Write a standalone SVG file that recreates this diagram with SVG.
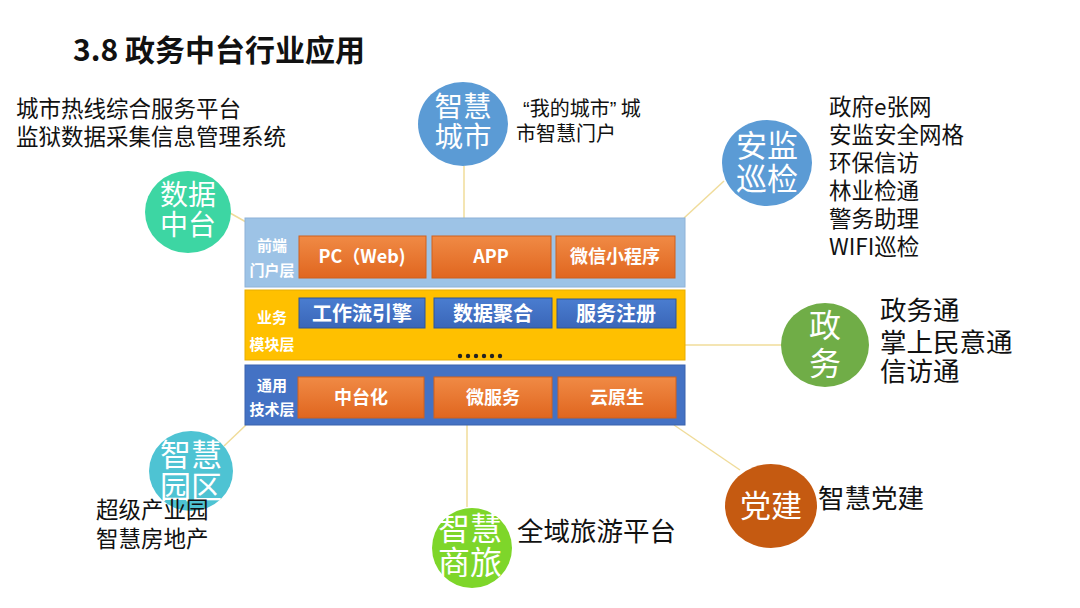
<svg xmlns="http://www.w3.org/2000/svg" width="1080" height="608" viewBox="0 0 1080 608">
<defs>
<linearGradient id="og" x1="0" y1="0" x2="0" y2="1"><stop offset="0" stop-color="#f08a45"/><stop offset="1" stop-color="#e0661f"/></linearGradient>
<linearGradient id="bg" x1="0" y1="0" x2="0" y2="1"><stop offset="0" stop-color="#4a7dd0"/><stop offset="1" stop-color="#3a66b8"/></linearGradient>
</defs>
<style>
text{font-family:"Noto Sans CJK SC","Noto Sans",sans-serif}
.title{font-size:30px;font-weight:bold;fill:#111}
.ob{fill:url(#og);stroke:#d0601c;stroke-width:1}
.bb{fill:url(#bg);stroke:#2f5597;stroke-width:1}
.bt{fill:#fff;font-size:18px;font-weight:bold;text-anchor:middle}
.bt2{fill:#fff;font-size:20px;font-weight:bold;text-anchor:middle}
.lt{fill:#fff;font-size:15px;font-weight:bold;text-anchor:middle}
.ct{fill:#fff;font-size:28px;text-anchor:middle}
.tx{fill:#111;font-size:22.5px}
.tq{fill:#111;font-size:20px}
.tl{fill:#111;font-size:26.5px}
.lat{font-family:"Liberation Sans",sans-serif}
.conn line{stroke:#f0dc9a;stroke-width:1.5}
</style>
<rect width="1080" height="608" fill="#fff"/>
<text class="title" x="73" y="61">3.8 政务中台行业应用</text>

<g class="conn" id="connectors">
<line x1="230" y1="213" x2="246" y2="222"/>
<line x1="464" y1="166" x2="464" y2="218"/>
<line x1="684" y1="218" x2="724" y2="181"/>
<line x1="685" y1="345" x2="782" y2="345"/>
<line x1="246" y1="425" x2="224" y2="446"/>
<line x1="467" y1="425" x2="467" y2="507"/>
<line x1="674" y1="425" x2="740" y2="470"/>
</g>

<g id="platform">
<rect x="245" y="218" width="440" height="69" fill="#9dc3e6" stroke="#8eb2d8"/>
<text class="lt" x="272" y="251">前端<tspan x="272" dy="25">门户层</tspan></text>
<rect class="ob" x="299" y="236" width="127" height="42"/>
<text class="bt" x="362" y="263">PC（Web)</text>
<rect class="ob" x="432" y="236" width="119" height="42"/>
<text class="bt" x="491" y="263">APP</text>
<rect class="ob" x="556" y="236" width="119" height="42"/>
<text class="bt" x="615" y="263">微信小程序</text>

<rect x="245" y="290" width="440" height="70" fill="#ffc000" stroke="#e8ad00"/>
<text class="lt" x="272" y="323">业务<tspan x="272" dy="27">模块层</tspan></text>
<rect class="bb" x="299" y="298" width="126" height="30"/>
<text class="bt2" x="362" y="321">工作流引擎</text>
<rect class="bb" x="434" y="298" width="118" height="30"/>
<text class="bt2" x="493" y="321">数据聚合</text>
<rect class="bb" x="557" y="299" width="119" height="29"/>
<text class="bt2" x="616" y="321">服务注册</text>
<g fill="#222"><circle cx="460" cy="356" r="2.2"/><circle cx="468" cy="356" r="2.2"/><circle cx="476" cy="356" r="2.2"/><circle cx="484" cy="356" r="2.2"/><circle cx="492" cy="356" r="2.2"/><circle cx="500" cy="356" r="2.2"/></g>

<rect x="245" y="365" width="440" height="60" fill="#4472c4" stroke="#3a63ad"/>
<text class="lt" x="272" y="391">通用<tspan x="272" dy="24">技术层</tspan></text>
<rect class="ob" x="298" y="377" width="126" height="41"/>
<text class="bt" x="361" y="404">中台化</text>
<rect class="ob" x="434" y="377" width="118" height="41"/>
<text class="bt" x="493" y="404">微服务</text>
<rect class="ob" x="558" y="377" width="118" height="41"/>
<text class="bt" x="617" y="404">云原生</text>
</g>

<g id="node-shujuzhongtai">
<ellipse cx="188" cy="212" rx="43" ry="41" fill="#3dd6a3"/>
<text class="ct" x="188" y="205">数据<tspan x="188" dy="30">中台</tspan></text>
<text class="tx" x="16" y="117">城市热线综合服务平台<tspan x="16" dy="28">监狱数据采集信息管理系统</tspan></text>
</g>

<g id="node-zhihuichengshi">
<ellipse cx="463" cy="124" rx="45" ry="42" fill="#5b9bd5"/>
<text class="ct" x="463" y="117" style="font-size:28.5px">智慧<tspan x="463" dy="30">城市</tspan></text>
<text class="tq" x="523" y="116"><tspan class="lat">“</tspan>我的城市<tspan class="lat">”</tspan> 城<tspan x="516" dy="25">市智慧门户</tspan></text>
</g>

<g id="node-anjianxunjian">
<ellipse cx="767" cy="163" rx="45" ry="43" fill="#5b9bd5"/>
<text class="ct" x="767" y="157" style="font-size:31px">安监<tspan x="767" dy="33">巡检</tspan></text>
<text class="tx" x="829" y="115">政府e张网<tspan x="829" dy="28">安监安全网格</tspan><tspan x="829" dy="28">环保信访</tspan><tspan x="829" dy="28">林业检通</tspan><tspan x="829" dy="28">警务助理</tspan><tspan x="829" dy="28">WIFI巡检</tspan></text>
</g>

<g id="node-zhengwu">
<ellipse cx="825" cy="345" rx="44" ry="42" fill="#70ad47"/>
<text class="ct" x="825" y="337" style="font-size:32px">政<tspan x="825" dy="38">务</tspan></text>
<text class="tl" x="880" y="320">政务通<tspan x="880" dy="32">掌上民意通</tspan><tspan x="880" dy="29">信访通</tspan></text>
</g>

<g id="node-zhihuiyuanqu">
<ellipse cx="191" cy="471" rx="42" ry="40" fill="#4ec3d3"/>
<text class="ct" x="191" y="466" style="font-size:31px">智慧<tspan x="191" dy="32">园区</tspan></text>
<text class="tx" x="96" y="518">超级产业园<tspan x="96" dy="29">智慧房地产</tspan></text>
</g>

<g id="node-zhihuishanglv">
<ellipse cx="472" cy="548" rx="40" ry="40" fill="#7ed62a"/>
<text class="ct" x="470" y="540" style="font-size:32px">智慧<tspan x="470" dy="34">商旅</tspan></text>
<text class="tl" x="517" y="541">全域旅游平台</text>
</g>

<g id="node-dangjian">
<ellipse cx="771" cy="506" rx="46" ry="42" fill="#c55a11"/>
<text class="ct" x="771" y="517" style="font-size:31px">党建</text>
<text class="tl" x="818" y="508">智慧党建</text>
</g>
</svg>
